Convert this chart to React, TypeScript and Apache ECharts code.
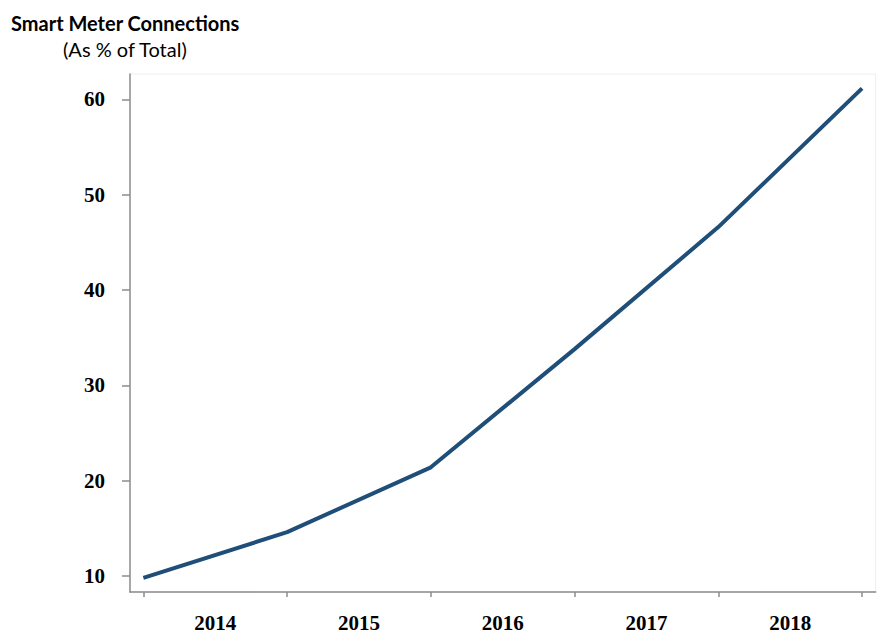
import React, { useEffect, useRef } from "react";
import * as echarts from "echarts";

const years = ["2014", "2015", "2016", "2017", "2018"];
const tickPositions = [0, 1, 2, 3, 4, 5];
const labelPositions = [0.5, 1.5, 2.5, 3.5, 4.5];
const connections = [9.8, 14.6, 21.4, 33.8, 46.6, 61.15];
const yTicks = [10, 20, 30, 40, 50, 60];

export default function App() {
  const ref = useRef<HTMLDivElement>(null);
  useEffect(() => {
    const chart = echarts.init(ref.current!, undefined, { renderer: "svg" });
    chart.setOption({
      animation: false,
      backgroundColor: "#ffffff",
      graphic: [
        {
          type: "text",
          left: 11,
          top: 13,
          style: {
            text: "Smart Meter Connections",
            font: "bold 20px Lato",
            fill: "#000",
          },
        },
        {
          type: "text",
          left: 63,
          top: 39,
          style: {
            text: "(As % of Total)",
            font: "20px Lato",
            fill: "#000",
          },
        },
      ],
      grid: {
        left: 130,
        right: 4.3,
        top: 74,
        bottom: 51,
        show: true,
        borderColor: "#eeeeee",
        borderWidth: 1,
      },
      xAxis: {
        type: "value",
        min: -0.093,
        max: 5.095,
        splitLine: { show: false },
        axisLine: { show: true, onZero: false, lineStyle: { color: "#8c8c8c", width: 1.5 } },
        axisTick: {
          show: true,
          customValues: tickPositions,
          length: 5,
          lineStyle: { color: "#8c8c8c", width: 1.5 },
        },
        axisLabel: {
          customValues: labelPositions,
          formatter: (v: number) => years[Math.floor(v)] ?? "",
          fontFamily: "Liberation Serif",
          fontWeight: "bold",
          fontSize: 21,
          color: "#000",
          margin: 20,
        },
      },
      yAxis: {
        type: "value",
        min: 8.32,
        max: 62.66,
        splitLine: { show: false },
        axisLine: { show: true, onZero: false, lineStyle: { color: "#8c8c8c", width: 1.5 } },
        axisTick: {
          show: true,
          customValues: yTicks,
          length: 8,
          lineStyle: { color: "#8c8c8c", width: 1.5 },
        },
        axisLabel: {
          customValues: yTicks,
          fontFamily: "Liberation Serif",
          fontWeight: "bold",
          fontSize: 21,
          color: "#000",
          margin: 25,
        },
      },
      series: [
        {
          type: "line",
          data: connections.map((v, i) => [tickPositions[i], v]),
          showSymbol: false,
          lineStyle: { color: "#1F4E79", width: 4 },
        },
      ],
    });
    return () => chart.dispose();
  }, []);
  return <div ref={ref} style={{ width: 880, height: 643, position: "absolute", left: 0, top: 0 }} />;
}
